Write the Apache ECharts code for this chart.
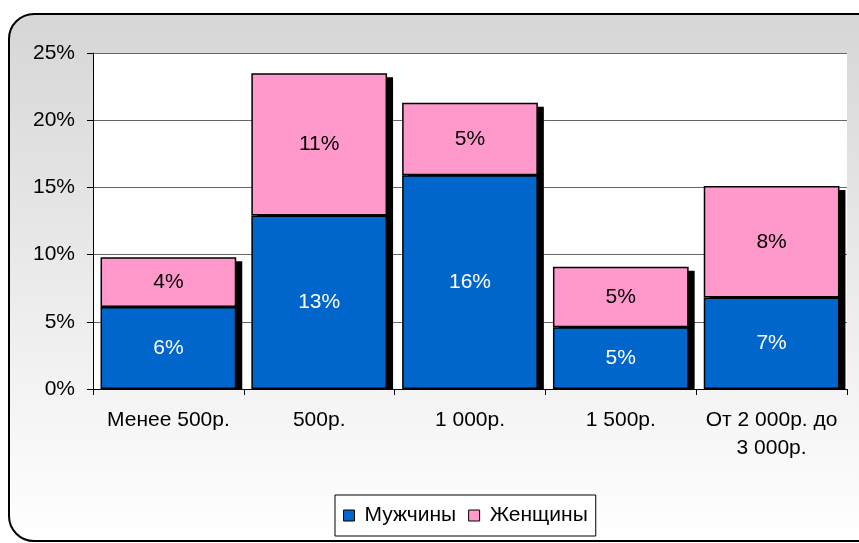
<!DOCTYPE html>
<html>
<head>
<meta charset="utf-8">
<script src="https://cdn.jsdelivr.net/npm/echarts@6/dist/echarts.min.js"></script>
<style>
  html, body { margin: 0; padding: 0; background: #fff; }
  #chart { width: 859px; height: 543px; }
</style>
</head>
<body>
<div id="chart"></div>
<script>
// данные с картинки, в процентах
const categories = ['Менее 500р.', '500р.', '1 000р.', '1 500р.', 'От 2 000р. до\n3 000р.'];
const men = [6.1, 12.9, 15.9, 4.6, 6.8];
const women = [3.7, 10.6, 5.4, 4.5, 8.3];
const yTicks = [0, 5, 10, 15, 20, 25];

const font = "'Liberation Sans', Arial, sans-serif";
const chart = echarts.init(document.getElementById('chart'), null, { renderer: 'canvas' });

const pct = p => Math.round(p.value) + '%';

// черная тень справа от столбика
function renderShadow(params, api) {
  const total = api.value(1);
  const top = api.coord([api.value(0), total]);
  const base = api.coord([api.value(0), 0]);
  const w = api.size([1, 0])[0] * 0.9;
  return {
    type: 'rect',
    shape: { x: top[0] - w / 2 + 6, y: top[1] + 4, width: w, height: base[1] - top[1] - 4 },
    style: { fill: '#000' }
  };
}

const option = {
  animation: false,
  textStyle: { fontFamily: font },
  graphic: [{
    type: 'rect',
    z: -10,
    shape: { x: 9, y: 14, width: 900, height: 527, r: 25 },
    style: {
      fill: new echarts.graphic.LinearGradient(0, 0, 0, 1, [
        { offset: 0, color: '#d6d6d6' },
        { offset: 1, color: '#ffffff' }
      ]),
      stroke: '#000',
      lineWidth: 2
    }
  }],
  grid: {
    left: 93, right: 12, top: 53, bottom: 154,
    show: true, backgroundColor: '#fff', borderWidth: 0
  },
  legend: {
    left: 335, top: 495,
    padding: [10, 8],
    backgroundColor: '#fff',
    borderColor: '#000',
    borderWidth: 1,
    borderRadius: 0,
    itemWidth: 11, itemHeight: 11,
    itemGap: 12,
    icon: 'rect',
    itemStyle: { borderColor: '#000', borderWidth: 1 },
    textStyle: { fontSize: 21, color: '#000', fontFamily: font, padding: [0, 0, 0, 5] },
    data: ['Мужчины', 'Женщины']
  },
  xAxis: {
    type: 'category',
    data: categories,
    axisLine: { lineStyle: { color: '#000', width: 1 } },
    axisTick: { show: true, length: 6, lineStyle: { color: '#000' } },
    axisLabel: { color: '#000', fontSize: 21, fontFamily: font, lineHeight: 28, margin: 17, interval: 0 }
  },
  yAxis: {
    type: 'value',
    min: yTicks[0], max: yTicks[yTicks.length - 1], interval: 5,
    axisLine: { show: true, lineStyle: { color: '#000', width: 1 } },
    axisTick: { show: true, length: 6, lineStyle: { color: '#000' } },
    axisLabel: { color: '#000', fontSize: 21, fontFamily: font, margin: 18, formatter: '{value}%' },
    splitLine: { lineStyle: { color: '#666', width: 1 } }
  },
  series: [
    {
      type: 'custom',
      z: 1,
      silent: true,
      renderItem: renderShadow,
      data: categories.map((c, i) => [i, men[i] + women[i]])
    },
    {
      name: 'Мужчины',
      type: 'bar',
      stack: 'total',
      z: 2,
      barWidth: '90%',
      data: men,
      itemStyle: { color: '#0066cc', borderColor: '#000', borderWidth: 1.5 },
      label: { show: true, position: 'inside', color: '#fff', fontSize: 21, fontFamily: font, formatter: pct }
    },
    {
      name: 'Женщины',
      type: 'bar',
      stack: 'total',
      z: 2,
      barWidth: '90%',
      data: women,
      itemStyle: { color: '#ff99cc', borderColor: '#000', borderWidth: 1.5 },
      label: { show: true, position: 'inside', color: '#000', fontSize: 21, fontFamily: font, formatter: pct }
    }
  ]
};

chart.setOption(option);
</script>
</body>
</html>
